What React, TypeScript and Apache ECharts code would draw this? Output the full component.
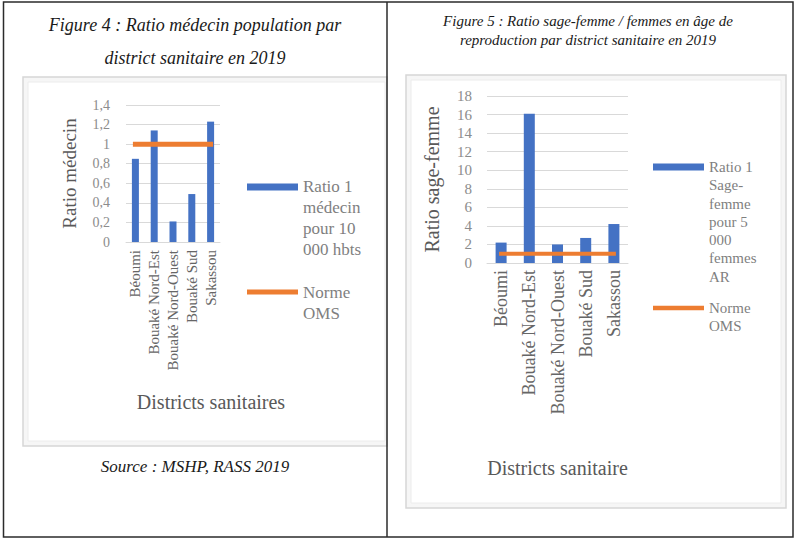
import React, { useEffect, useRef } from "react";
import * as echarts from "echarts";

const districts = ["Béoumi", "Bouaké Nord-Est", "Bouaké Nord-Ouest", "Bouaké Sud", "Sakassou"];
const ratioMedecin = [0.85, 1.14, 0.21, 0.49, 1.23];
const normeMedecin = [1, 1, 1, 1, 1];
const ratioSageFemme = [2.2, 16.1, 2.0, 2.7, 4.2];
const normeSageFemme = [1, 1, 1, 1, 1];
const leftTicks = ["0", "0,2", "0,4", "0,6", "0,8", "1", "1,2", "1,4"];
const rightTicks = ["0", "2", "4", "6", "8", "10", "12", "14", "16", "18"];

const nameMed = "Ratio 1 médecin pour 10 000 hbts";
const nameSF = "Ratio 1 Sage-femme pour 5 000 femmes AR";
const nameNorme = "Norme OMS";

const legendTextMed = "Ratio 1\nmédecin\npour 10\n000 hbts";
const legendTextSF = "Ratio 1\nSage-\nfemme\npour 5\n000\nfemmes\nAR";
const legendTextNorme = "Norme\nOMS";

const BLUE = "#4472C4";
const ORANGE = "#ED7D31";
const SERIF = "Liberation Serif";

export default function App() {
  const ref = useRef<HTMLDivElement>(null);
  useEffect(() => {
    if (!ref.current) return;
    const chart = echarts.init(ref.current, undefined, { renderer: "svg" });

    // Legend whose icon sits next to the first line of a multi-line label
    const mkLegend = (
      name: string,
      text: string,
      left: number,
      firstLineY: number,
      lines: number,
      lh: number,
      fontSize: number,
      iconH: number
    ) => {
      const H = lines * lh;
      const c = lh / 2;
      const y0 = (c - iconH / 2).toFixed(2);
      const y1 = (c + iconH / 2).toFixed(2);
      const icon = `path://M0,0L0.01,0Z M0,${y0}L51,${y0}L51,${y1}L0,${y1}Z M0,${H.toFixed(2)}L0.01,${H.toFixed(2)}Z`;
      return {
        data: [name],
        left,
        top: firstLineY - c,
        padding: 0,
        icon,
        itemWidth: 51,
        itemHeight: H,
        itemGap: 0,
        selectedMode: false,
        formatter: () => text,
        textStyle: {
          fontFamily: SERIF,
          fontSize,
          lineHeight: lh,
          color: "#7f7f7f",
        },
      };
    };

    const option: any = {
      animation: false,
      textStyle: { fontFamily: SERIF },
      grid: [
        { left: 126, top: 105, width: 94, height: 137 },
        { left: 487, top: 96, width: 141, height: 167 },
      ],
      xAxis: [
        {
          type: "category",
          gridIndex: 0,
          data: districts,
          axisLine: { lineStyle: { color: "#d9d9d9", width: 1 } },
          axisTick: { show: false },
          axisLabel: { rotate: 90, interval: 0, margin: 8, color: "#666666", fontSize: 15, fontFamily: SERIF },
          name: "Districts sanitaires",
          nameLocation: "middle",
          nameGap: 150,
          nameTextStyle: { fontSize: 20, color: "#595959", fontFamily: SERIF, padding: [0, 0, 0, 76] },
        },
        {
          type: "category",
          gridIndex: 1,
          data: districts,
          axisLine: { lineStyle: { color: "#d9d9d9", width: 1 } },
          axisTick: { show: false },
          axisLabel: { rotate: 90, interval: 0, margin: 7, color: "#666666", fontSize: 18, fontFamily: SERIF },
          name: "Districts sanitaire",
          nameLocation: "middle",
          nameGap: 195,
          nameTextStyle: { fontSize: 20, color: "#595959", fontFamily: SERIF },
        },
      ],
      yAxis: [
        {
          type: "value",
          gridIndex: 0,
          min: 0,
          max: 1.4,
          interval: 0.2,
          axisLine: { show: false },
          axisTick: { show: false },
          splitLine: { lineStyle: { color: "#d9d9d9", width: 1 } },
          axisLabel: {
            color: "#8c8c8c",
            fontSize: 14,
            fontFamily: SERIF,
            margin: 16,
            formatter: (v: number) => leftTicks[Math.round(v / 0.2)] ?? "",
          },
          name: "Ratio médecin",
          nameLocation: "middle",
          nameRotate: 90,
          nameGap: 47,
          nameTextStyle: { fontSize: 19, color: "#595959", fontFamily: SERIF },
        },
        {
          type: "value",
          gridIndex: 1,
          min: 0,
          max: 18,
          interval: 2,
          axisLine: { show: false },
          axisTick: { show: false },
          splitLine: { lineStyle: { color: "#d9d9d9", width: 1 } },
          axisLabel: {
            color: "#8c8c8c",
            fontSize: 15,
            fontFamily: SERIF,
            margin: 15,
            formatter: (v: number) => rightTicks[Math.round(v / 2)] ?? "",
          },
          name: "Ratio sage-femme",
          nameLocation: "middle",
          nameRotate: 90,
          nameGap: 45,
          nameTextStyle: { fontSize: 20, color: "#595959", fontFamily: SERIF },
        },
      ],
      legend: [
        mkLegend(nameMed, legendTextMed, 247, 187, 4, 20.7, 17, 7),
        mkLegend(nameNorme, legendTextNorme, 247, 292, 2, 21, 17, 5),
        mkLegend(nameSF, legendTextSF, 653, 167, 7, 18.3, 15, 7),
        mkLegend(nameNorme, legendTextNorme, 653, 308, 2, 17.5, 15, 4.5),
      ],
      series: [
        {
          name: nameMed,
          type: "bar",
          xAxisIndex: 0,
          yAxisIndex: 0,
          data: ratioMedecin,
          barWidth: 7,
          itemStyle: { color: BLUE },
        },
        {
          name: nameNorme,
          type: "line",
          xAxisIndex: 0,
          yAxisIndex: 0,
          data: normeMedecin,
          symbol: "none",
          itemStyle: { color: ORANGE },
          lineStyle: { color: ORANGE, width: 5, cap: "square" },
          z: 3,
        },
        {
          name: nameSF,
          type: "bar",
          xAxisIndex: 1,
          yAxisIndex: 1,
          data: ratioSageFemme,
          barWidth: 11,
          itemStyle: { color: BLUE },
        },
        {
          name: nameNorme,
          type: "line",
          xAxisIndex: 1,
          yAxisIndex: 1,
          data: normeSageFemme,
          symbol: "none",
          itemStyle: { color: ORANGE },
          lineStyle: { color: ORANGE, width: 4, cap: "square" },
          z: 3,
        },
      ],
      graphic: [
        {
          type: "rect",
          z: -10,
          shape: { x: 23, y: 77, width: 364, height: 369 },
          style: { fill: "#f6f6f6", stroke: "#d6d6d6", lineWidth: 1.5 },
        },
        {
          type: "rect",
          z: -9,
          shape: { x: 28, y: 82, width: 357, height: 359 },
          style: { fill: "#ffffff", stroke: "#ececec", lineWidth: 1 },
        },
        {
          type: "rect",
          z: -10,
          shape: { x: 406, y: 75, width: 380, height: 433 },
          style: { fill: "#f6f6f6", stroke: "#d6d6d6", lineWidth: 1.5 },
        },
        {
          type: "rect",
          z: -9,
          shape: { x: 411, y: 80, width: 370, height: 423 },
          style: { fill: "#ffffff", stroke: "#ececec", lineWidth: 1 },
        },
        {
          type: "rect",
          z: 10,
          shape: { x: 3.5, y: 2, width: 789.5, height: 535 },
          style: { fill: "none", stroke: "#2b2b2b", lineWidth: 1.5 },
        },
        {
          type: "line",
          z: 10,
          shape: { x1: 387, y1: 2, x2: 387, y2: 537 },
          style: { stroke: "#2b2b2b", lineWidth: 1.5 },
        },
        {
          type: "text",
          x: 195,
          y: 25,
          style: {
            text: "Figure 4 : Ratio médecin population par",
            font: `italic 18px ${SERIF}`,
            fill: "#1a1a1a",
            align: "center",
            verticalAlign: "middle",
          },
        },
        {
          type: "line",
          shape: { x1: 66, y1: 34, x2: 71, y2: 34 },
          style: { stroke: "#1a1a1a", lineWidth: 1 },
        },
        {
          type: "text",
          x: 195,
          y: 58,
          style: {
            text: "district sanitaire en 2019",
            font: `italic 18px ${SERIF}`,
            fill: "#1a1a1a",
            align: "center",
            verticalAlign: "middle",
          },
        },
        {
          type: "text",
          x: 195,
          y: 466,
          style: {
            text: "Source : MSHP, RASS 2019",
            font: `italic 17px ${SERIF}`,
            fill: "#1a1a1a",
            align: "center",
            verticalAlign: "middle",
          },
        },
        {
          type: "text",
          x: 588,
          y: 21,
          style: {
            text: "Figure 5 : Ratio sage-femme / femmes en âge de",
            font: `italic 15px ${SERIF}`,
            fill: "#1a1a1a",
            align: "center",
            verticalAlign: "middle",
          },
        },
        {
          type: "text",
          x: 588,
          y: 40,
          style: {
            text: "reproduction par district sanitaire en 2019",
            font: `italic 15px ${SERIF}`,
            fill: "#1a1a1a",
            align: "center",
            verticalAlign: "middle",
          },
        },
      ],
    };

    chart.setOption(option);
    return () => chart.dispose();
  }, []);

  return (
    <div
      ref={ref}
      style={{ position: "absolute", left: 0, top: 0, width: 796, height: 540, background: "#ffffff" }}
    />
  );
}
